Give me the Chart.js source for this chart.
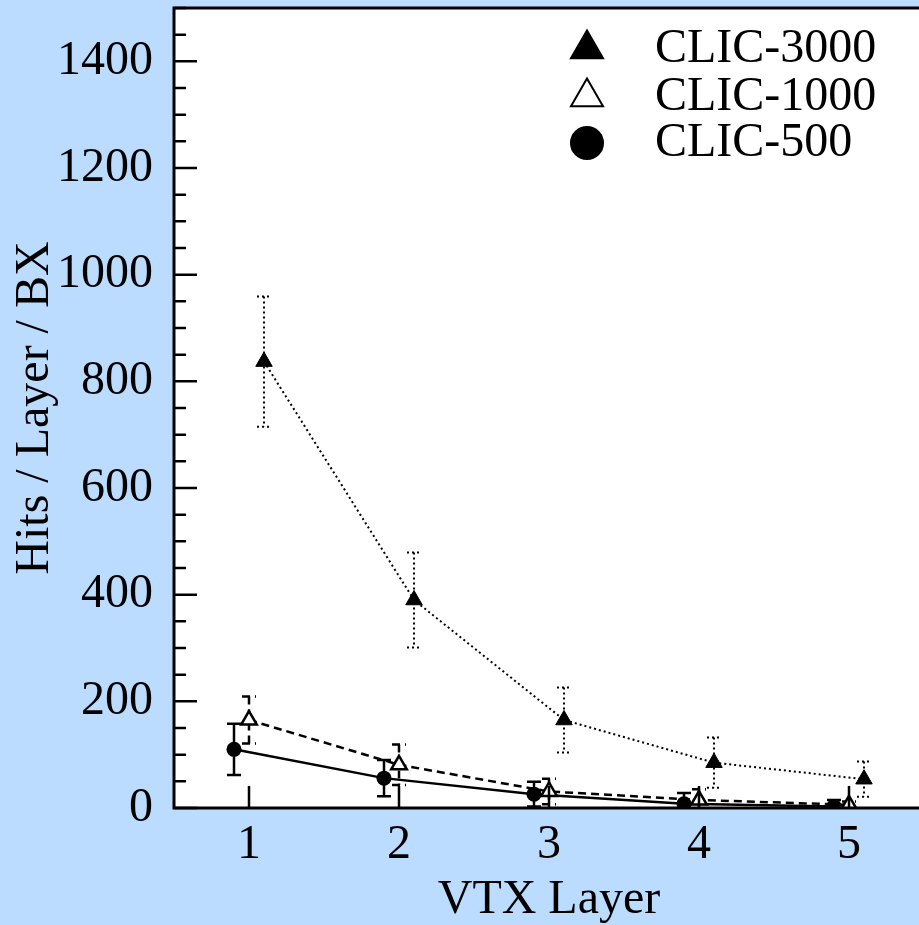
<!DOCTYPE html>
<html>
<head>
<meta charset="utf-8">
<script src="https://cdn.jsdelivr.net/npm/chart.js@4/dist/chart.umd.min.js"></script>
<style>
  html, body { margin: 0; padding: 0; overflow: hidden; background: #bbdcfe; }
  #wrap { width: 930px; height: 925px; }
</style>
</head>
<body>
<div id="wrap"><canvas id="hits" width="930" height="925"></canvas></div>
<script>
// VTX layer occupancy: hits per layer per bunch crossing
const layers = [1, 2, 3, 4, 5];

const clic3000 = [837, 390, 165, 85, 54];
const clic3000Err = [122, 89, 61, 47, 33];

const clic1000 = [165, 81, 31, 15, 6];
const clic1000Err = [44, 38, 24, 20, 6];

const clic500 = [110, 56, 26, 8, 3];
const clic500Err = [48, 34, 23, 20, 12];

const yLabelStep = 200;
const serif = 'Liberation Serif, Times New Roman, serif';

// series are drawn slightly shifted along x so the error bars don't overlap
function points(values, shift) {
    return layers.map((l, i) => ({ x: l + shift, y: values[i] }));
}

const bgPlugin = {
    id: 'bg',
    beforeDraw(chart) {
        const ctx = chart.ctx, a = chart.chartArea;
        ctx.save();
        ctx.fillStyle = '#bbdcfe';
        ctx.fillRect(0, 0, chart.width, chart.height);
        ctx.fillStyle = '#ffffff';
        ctx.fillRect(a.left, a.top, a.right - a.left, a.bottom - a.top);
        ctx.restore();
    }
};

const errorBars = {
    id: 'errorBars',
    beforeDatasetsDraw(chart) {
        const ctx = chart.ctx, a = chart.chartArea;
        const ys = chart.scales.y;
        ctx.save();
        ctx.beginPath();
        ctx.rect(a.left, a.top, a.right - a.left, a.bottom - a.top);
        ctx.clip();
        chart.data.datasets.forEach((ds, i) => {
            const meta = chart.getDatasetMeta(i);
            ctx.strokeStyle = '#000';
            ctx.lineWidth = ds.errWidth;
            ctx.setLineDash(ds.borderDash || []);
            meta.data.forEach((pt, j) => {
                const v = ds.data[j].y, e = ds.errors[j];
                const top = ys.getPixelForValue(v + e);
                const bot = ys.getPixelForValue(v - e);
                ctx.beginPath();
                ctx.moveTo(pt.x, top);
                ctx.lineTo(pt.x, bot);
                ctx.moveTo(pt.x - 7, top);
                ctx.lineTo(pt.x + 7, top);
                ctx.moveTo(pt.x - 7, bot);
                ctx.lineTo(pt.x + 7, bot);
                ctx.stroke();
            });
        });
        ctx.restore();
    }
};

// inward tick marks, frame and the legend inside the plot
const frame = {
    id: 'frame',
    afterDraw(chart) {
        const ctx = chart.ctx, a = chart.chartArea;
        const xs = chart.scales.x, ys = chart.scales.y;
        ctx.save();
        ctx.strokeStyle = '#000';
        ctx.lineWidth = 2.5;
        ctx.setLineDash([]);
        ctx.beginPath();
        ys.ticks.forEach(t => {
            const py = ys.getPixelForValue(t.value);
            const len = t.value % yLabelStep === 0 ? 23 : 12;
            ctx.moveTo(a.left, py);
            ctx.lineTo(a.left + len, py);
        });
        xs.ticks.forEach(t => {
            const px = xs.getPixelForValue(t.value);
            ctx.moveTo(px, a.bottom);
            ctx.lineTo(px, a.bottom - 22);
        });
        ctx.stroke();
        ctx.lineWidth = 3;
        ctx.strokeRect(a.left, a.top, a.right - a.left, a.bottom - a.top);

        const rowY = [49, 97, 143];
        ctx.font = '48px ' + serif;
        ctx.textBaseline = 'middle';
        ctx.fillStyle = '#000';
        chart.data.datasets.forEach((ds, i) => {
            ctx.save();
            ctx.fillStyle = ds.pointBackgroundColor;
            ctx.strokeStyle = '#000';
            ctx.lineWidth = 2;
            Chart.helpers.drawPoint(ctx, {
                pointStyle: ds.pointStyle,
                radius: ds.legendRadius,
                rotation: 0,
                borderWidth: 2
            }, 587, rowY[i]);
            ctx.restore();
            ctx.fillText(ds.label, 655, rowY[i]);
        });
        ctx.restore();
    }
};

new Chart(document.getElementById('hits'), {
    type: 'line',
    data: {
        datasets: [
            {
                label: 'CLIC-3000',
                data: points(clic3000, 0.1),
                errors: clic3000Err,
                borderColor: '#000',
                borderWidth: 2,
                borderDash: [2, 3],
                errWidth: 2,
                pointStyle: 'triangle',
                pointRadius: 9.5,
                legendRadius: 18.5,
                pointBackgroundColor: '#000',
                pointBorderColor: '#000',
                pointBorderWidth: 1
            },
            {
                label: 'CLIC-1000',
                data: points(clic1000, 0),
                errors: clic1000Err,
                borderColor: '#000',
                borderWidth: 2.5,
                borderDash: [8, 5],
                errWidth: 2.5,
                pointStyle: 'triangle',
                pointRadius: 9,
                legendRadius: 18.5,
                pointBackgroundColor: '#fff',
                pointBorderColor: '#000',
                pointBorderWidth: 2.5
            },
            {
                label: 'CLIC-500',
                data: points(clic500, -0.1),
                errors: clic500Err,
                borderColor: '#000',
                borderWidth: 2.5,
                errWidth: 2.5,
                pointStyle: 'circle',
                pointRadius: 7.5,
                legendRadius: 16,
                pointBackgroundColor: '#000',
                pointBorderColor: '#000',
                pointBorderWidth: 0
            }
        ]
    },
    options: {
        responsive: false,
        animation: false,
        devicePixelRatio: 1,
        layout: { autoPadding: false, padding: { top: 8, right: 6, left: 0, bottom: 0 } },
        plugins: {
            legend: { display: false },
            tooltip: { enabled: false }
        },
        scales: {
            x: {
                type: 'linear',
                min: 0.5,
                max: 5.5,
                afterBuildTicks(scale) {
                    scale.ticks = layers.map(v => ({ value: v }));
                },
                afterFit(scale) {
                    scale.height = 117;
                    scale.paddingLeft = 0;
                    scale.paddingRight = 0;
                },
                grid: { display: false, drawTicks: false },
                border: { display: false },
                ticks: {
                    color: '#000',
                    font: { family: serif, size: 48 },
                    padding: 9,
                    maxRotation: 0,
                    autoSkip: false
                },
                title: {
                    display: true,
                    text: 'VTX Layer',
                    color: '#000',
                    font: { family: serif, size: 48, lineHeight: 1.04 },
                    padding: { top: 0, bottom: 0 }
                }
            },
            y: {
                min: 0,
                max: 1500,
                afterFit(scale) {
                    scale.width = 174;
                    scale.paddingTop = 0;
                    scale.paddingBottom = 0;
                },
                grid: { display: false, drawTicks: false },
                border: { display: false },
                ticks: {
                    stepSize: 50,
                    autoSkip: false,
                    color: '#000',
                    font: { family: serif, size: 48 },
                    padding: 21,
                    callback: v => (v % yLabelStep === 0 ? v : '')
                },
                title: {
                    display: true,
                    text: 'Hits / Layer / BX',
                    color: '#000',
                    font: { family: serif, size: 48, lineHeight: 1.04 },
                    padding: { top: 10, bottom: 0 }
                }
            }
        }
    },
    plugins: [bgPlugin, errorBars, frame]
});
</script>
</body>
</html>
